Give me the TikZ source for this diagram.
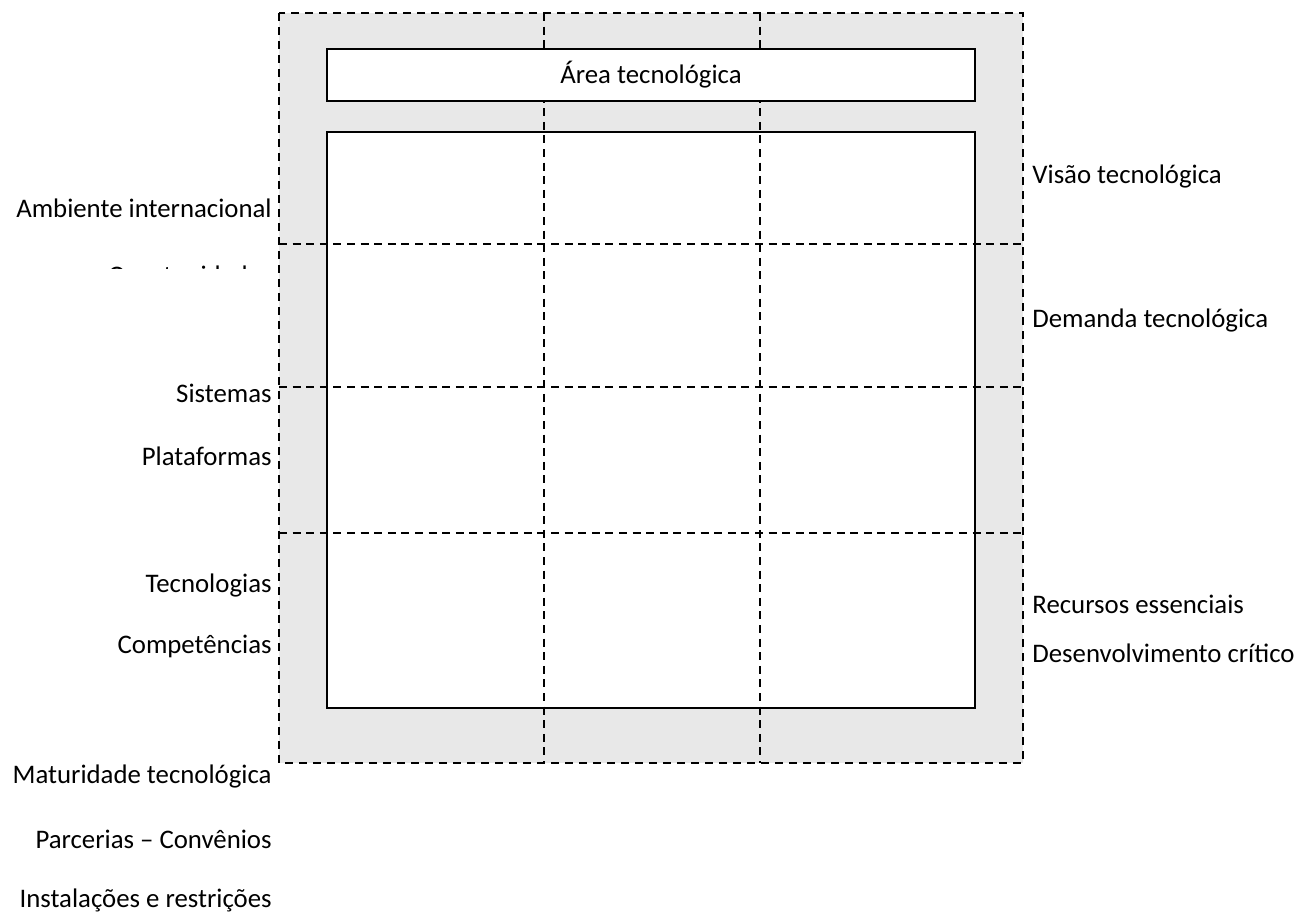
\documentclass[tikz,border=0pt]{standalone}
\usepackage{fontspec}
\setmainfont{Carlito}
\usepackage{tikz}
\usetikzlibrary{positioning}
\definecolor{framefill}{HTML}{E8E8E8}
\definecolor{framedraw}{HTML}{000000}

\begin{document}
\begin{tikzpicture}[x=0.5pt, y=-0.5pt, every node/.style={font=\fontsize{13.4}{16}\selectfont, inner sep=0pt}]
\tikzstyle{frame}=[draw=framedraw, dash pattern=on 4pt off 3pt, line width=1pt, fill=framefill]
\tikzstyle{grid}=[draw=framedraw, dash pattern=on 4pt off 2.8pt, line width=0.75pt]
\tikzstyle{box}=[draw=framedraw, fill=white, line width=1pt]
\tikzstyle{lbl}=[anchor=base east]
\tikzstyle{rlbl}=[anchor=base west]

\useasboundingbox (0,0) rectangle (1310,918);
\draw[frame] (279,13) rectangle (1023,763);
\draw[box] (327,132) rectangle (975,708);
\foreach \x in {544,760} \draw[grid] (\x,13) -- (\x,763);
\foreach \y in {244,387,533} \draw[grid] (279,\y) -- (1023,\y);
\node[box, minimum width=324pt, minimum height=26pt] (area) at (651,75) {Área tecnológica};

\node[lbl] (amb) at (272,217) {Ambiente internacional};
\begin{scope}
\clip (0,250) rectangle (279,268);
\node[lbl] (oport) at (272,284) {Oportunidades};
\end{scope}
\node[lbl] (sist) at (272,402) {Sistemas};
\node[lbl] (plat) at (272,465) {Plataformas};
\node[lbl] (tecn) at (272,592) {Tecnologias};
\node[lbl] (comp) at (272,653) {Competências};
\node[lbl] (matu) at (272,783) {Maturidade tecnológica};
\node[lbl] (parc) at (272,848) {Parcerias – Convênios};
\node[lbl] (inst) at (272,907) {Instalações e restrições};

\node[rlbl] (visao) at (1032,183) {Visão tecnológica};
\node[rlbl] (dem) at (1032,327) {Demanda tecnológica};
\node[rlbl] (rec) at (1032,613) {Recursos essenciais};
\node[rlbl] (desenv) at (1032,662) {Desenvolvimento crítico};
\end{tikzpicture}
\end{document}
